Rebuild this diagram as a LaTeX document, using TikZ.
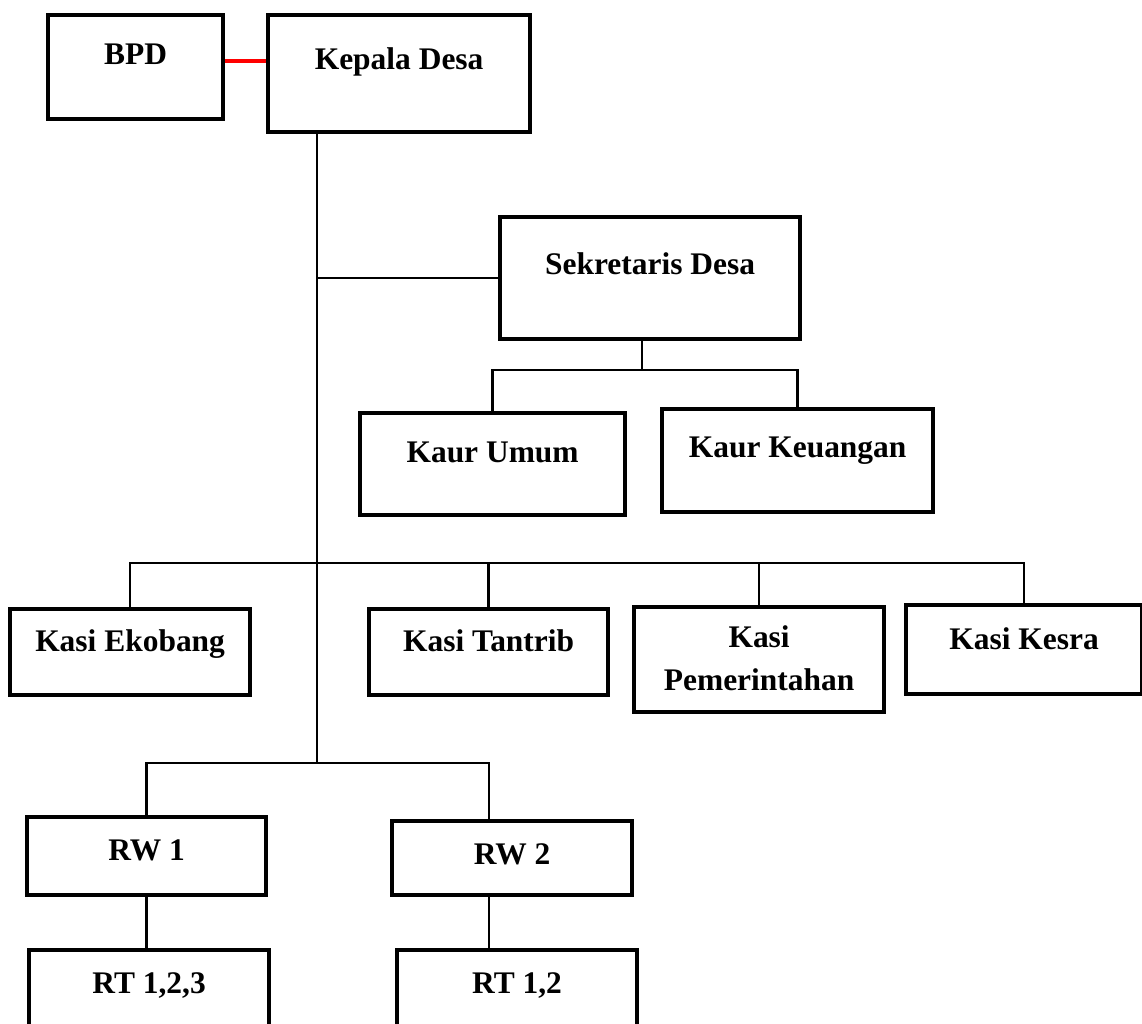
\documentclass[tikz,border=0pt]{standalone}
\usepackage{fontspec}
\setmainfont{Liberation Serif}

\begin{document}
\begin{tikzpicture}[
  unit/.style={draw, line width=2.4pt, inner sep=0pt, anchor=north west,
               font=\bfseries\fontsize{17.9}{24.4}\selectfont},
  dim/.style n args={3}{minimum width=#1, text height=#2, text depth=#3},
  link/.style={draw, line width=1.3pt},
  tie/.style={draw, red, line width=1.9pt}
]
  \useasboundingbox (0,0) rectangle (22.84,-20.46);
  \clip (0,0) rectangle (22.84,-20.46);

  \node[unit, dim={3.50cm}{0.98cm}{1.10cm}] (bpd)     at (0.92,-0.26)   {BPD};
  \node[unit, dim={5.24cm}{1.08cm}{1.26cm}] (kades)   at (5.32,-0.26)   {Kepala Desa};
  \node[unit, dim={6.00cm}{1.14cm}{1.30cm}] (sekdes)  at (9.96,-4.30)   {Sekretaris Desa};
  \node[unit, dim={5.30cm}{0.98cm}{1.06cm}] (umum)    at (7.16,-8.22)   {Kaur Umum};
  \node[unit, dim={5.42cm}{0.96cm}{1.10cm}] (keu)     at (13.20,-8.14)  {Kaur Keuangan};
  \node[unit, dim={4.80cm}{0.84cm}{0.88cm}] (ekobang) at (0.16,-12.14)  {Kasi Ekobang};
  \node[unit, dim={4.78cm}{0.84cm}{0.88cm}] (tantrib) at (7.34,-12.14)  {Kasi Tantrib};
  \node[unit, dim={5.00cm}{1.66cm}{0.44cm}, align=center]
                                            (pem)     at (12.64,-12.10) {Kasi\\Pemerintahan};
  \node[unit, dim={4.72cm}{0.88cm}{0.90cm}] (kesra)   at (18.08,-12.06) {Kasi Kesra};
  \node[unit, dim={4.78cm}{0.86cm}{0.70cm}] (rw1)     at (0.50,-16.30)  {RW 1};
  \node[unit, dim={4.80cm}{0.86cm}{0.62cm}] (rw2)     at (7.80,-16.38)  {RW 2};
  \node[unit, dim={4.80cm}{0.86cm}{0.94cm}] (rt1)     at (0.54,-18.96)  {RT 1,2,3};
  \node[unit, dim={4.80cm}{0.86cm}{0.94cm}] (rt2)     at (7.90,-18.96)  {RT 1,2};

  % main line and the bars it feeds
  \coordinate (trunk)   at (6.34,-15.26);
  \coordinate (kaurbar) at (0,-7.40);
  \coordinate (kasibar) at (0,-11.26);
  \coordinate (rwcol)   at (9.78,0);

  \draw[tie] ([yshift=0.12cm]bpd.east) -- ([yshift=0.12cm]bpd.east -| kades.west);
  \draw[link] (trunk |- kades.south) -- (trunk);
  \draw[link] (sekdes.west -| trunk) -- (sekdes.west);
  \draw[link] ([xshift=-0.16cm]sekdes.south) -- ([xshift=-0.16cm]sekdes.south |- kaurbar);
  \draw[link] (umum.north) -- (umum.north |- kaurbar) -- (keu.north |- kaurbar) -- (keu.north);
  \draw[link] (ekobang.north) -- (ekobang.north |- kasibar) -- (kesra.north |- kasibar) -- (kesra.north);
  \draw[link] (tantrib.north) -- (tantrib.north |- kasibar);
  \draw[link] (pem.north) -- (pem.north |- kasibar);
  \draw[link] (rw1.north) -- (rw1.north |- trunk) -- (rwcol |- trunk) -- (rwcol |- rw2.north);
  \draw[link] (rw1.south) -- (rw1.south |- rt1.north);
  \draw[link] (rwcol |- rw2.south) -- (rwcol |- rt2.north);
\end{tikzpicture}
\end{document}
